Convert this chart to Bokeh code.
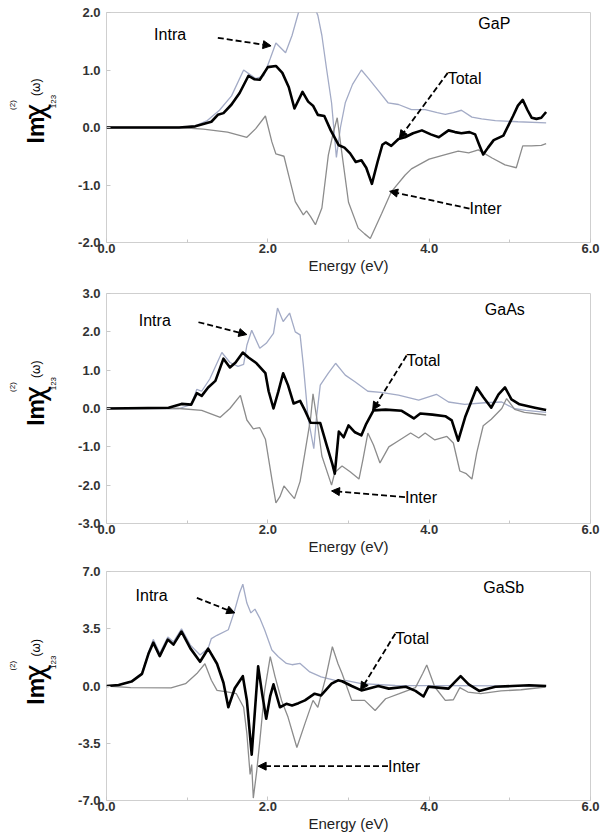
import math
from bokeh.plotting import figure
from bokeh.layouts import column, row
from bokeh.models import Label, Arrow, NormalHead, FixedTicker, NumeralTickFormatter, Range1d
from bokeh.embed import file_html
from bokeh.resources import INLINE

# ---------------- data ----------------
x_ticks = [0, 2, 4, 6]
x_minor = [1, 3, 5]

# GaP
gap_total_x = [0, 0.9, 1.1, 1.2, 1.3, 1.38, 1.45, 1.55, 1.65, 1.76,
               1.83, 1.9, 2.0, 2.1, 2.18, 2.26, 2.33, 2.43, 2.5, 2.56,
               2.62, 2.7, 2.78, 2.88, 2.95, 3.02, 3.09, 3.16, 3.22, 3.29,
               3.36, 3.42, 3.46, 3.53, 3.62, 3.7, 3.8, 3.91, 4.02, 4.12,
               4.24, 4.32, 4.4, 4.5, 4.57, 4.62, 4.67, 4.73, 4.8, 4.92,
               5.04, 5.1, 5.16, 5.22, 5.27, 5.33, 5.39, 5.45]
gap_total_y = [0, 0, 0.02, 0.06, 0.1, 0.22, 0.25, 0.4, 0.6, 0.9,
               0.84, 0.83, 1.05, 1.07, 0.95, 0.7, 0.33, 0.62, 0.45, 0.38,
               0.22, 0.2, -0.05, -0.31, -0.35, -0.45, -0.6, -0.57, -0.7, -0.98,
               -0.6, -0.3, -0.26, -0.32, -0.2, -0.17, -0.1, -0.05, -0.12, -0.17,
               -0.05, -0.08, -0.1, -0.08, -0.12, -0.3, -0.47, -0.35, -0.22, -0.14,
               0.2, 0.38, 0.48, 0.3, 0.17, 0.15, 0.17, 0.27]
gap_intra_x = [0, 0.9, 1.1, 1.25, 1.4, 1.55, 1.7, 1.78, 1.85, 1.95,
               2.03, 2.1, 2.22, 2.3, 2.38, 2.45, 2.5, 2.56, 2.62, 2.67,
               2.73, 2.79, 2.85, 2.9, 2.96, 3.05, 3.16, 3.25, 3.37, 3.49,
               3.62, 3.78, 3.95, 4.1, 4.2, 4.3, 4.4, 4.53, 4.65, 4.82,
               5.1, 5.45]
gap_intra_y = [0, 0, 0.03, 0.12, 0.3, 0.55, 1.0, 0.92, 0.85, 0.9,
               1.2, 1.47, 1.3, 1.6, 2.0, 2.15, 2.05, 2.15, 1.95, 1.6,
               1.0, 0.43, -0.52, 0.0, 0.43, 0.75, 1.0, 0.85, 0.64, 0.43,
               0.4, 0.31, 0.31, 0.26, 0.23, 0.26, 0.3, 0.18, 0.15, 0.12,
               0.1, 0.08]
gap_inter_x = [0, 0.9, 1.2, 1.5, 1.74, 1.85, 1.97, 2.05, 2.1, 2.2,
               2.26, 2.34, 2.44, 2.48, 2.53, 2.59, 2.67, 2.75, 2.81, 2.86,
               2.9, 3.0, 3.12, 3.2, 3.27, 3.41, 3.53, 3.7, 3.78, 4.0,
               4.2, 4.36, 4.49, 4.61, 4.78, 4.94, 5.08, 5.16, 5.27, 5.39,
               5.45]
gap_inter_y = [0, 0, -0.03, -0.08, -0.17, -0.02, 0.2, -0.25, -0.46, -0.5,
               -0.84, -1.29, -1.52, -1.45, -1.55, -1.69, -1.4, -0.48, -0.1, 0.17,
               -0.26, -1.3, -1.75, -1.85, -1.93, -1.5, -1.12, -0.83, -0.72, -0.55,
               -0.47, -0.41, -0.44, -0.39, -0.53, -0.65, -0.7, -0.32, -0.32, -0.31,
               -0.28]
gap_yticks = [-2, -1, 0, 1, 2]

# GaAs
gaas_total_x = [0, 0.77, 0.93, 1.05, 1.12, 1.18, 1.26, 1.35, 1.45, 1.53,
                1.6, 1.69, 1.76, 1.86, 1.97, 2.01, 2.07, 2.13, 2.19, 2.25,
                2.32, 2.4, 2.46, 2.53, 2.65, 2.73, 2.8, 2.83, 2.88, 2.94,
                3.0, 3.08, 3.16, 3.22, 3.31, 3.46, 3.66, 3.81, 3.89, 4.04,
                4.2, 4.28, 4.36, 4.45, 4.59, 4.67, 4.77, 4.86, 4.94, 5.02,
                5.12, 5.31, 5.45]
gaas_total_y = [0, 0.02, 0.12, 0.1, 0.4, 0.33, 0.55, 0.72, 1.3, 1.07,
                1.2, 1.46, 1.33, 1.18, 0.92, 0.45, 0.0, 0.44, 0.92, 0.61,
                0.13, 0.2, -0.05, -0.37, -0.38, -0.96, -1.45, -1.7, -0.6, -0.75,
                -0.44, -0.62, -0.7, -0.4, -0.05, -0.03, -0.06, -0.26, -0.13, -0.16,
                -0.2, -0.31, -0.84, -0.2, 0.55, 0.3, 0.02, 0.37, 0.55, 0.24,
                0.11, 0.02, -0.04]
gaas_intra_x = [0, 0.9, 1.05, 1.12, 1.18, 1.28, 1.43, 1.53, 1.63, 1.7,
                1.74, 1.8, 1.9, 1.98, 2.07, 2.12, 2.19, 2.27, 2.34, 2.4,
                2.44, 2.5, 2.57, 2.6, 2.65, 2.75, 2.84, 2.96, 3.08, 3.24,
                3.4, 3.62, 3.87, 4.09, 4.24, 4.44, 4.69, 4.9, 5.05, 5.2,
                5.45]
gaas_intra_y = [0, 0.0, 0.1, 0.5, 0.45, 0.77, 1.46, 1.2, 1.1, 1.15,
                1.65, 2.04, 1.57, 1.7, 1.96, 2.62, 2.27, 2.49, 2.0, 1.92,
                1.13, -0.26, -1.05, -0.3, 0.61, 0.92, 1.18, 0.87, 0.7, 0.45,
                0.42, 0.35, 0.22, 0.37, 0.17, 0.11, 0.15, 0.17, 0.0, -0.05,
                -0.1]
gaas_inter_x = [0, 0.9, 1.18, 1.41, 1.53, 1.66, 1.74, 1.82, 1.9, 1.97,
                2.05, 2.1, 2.15, 2.2, 2.27, 2.33, 2.4, 2.46, 2.53, 2.56,
                2.61, 2.67, 2.79, 2.83, 2.92, 3.02, 3.13, 3.18, 3.24, 3.31,
                3.39, 3.5, 3.62, 3.77, 3.87, 3.95, 4.07, 4.22, 4.3, 4.38,
                4.46, 4.53, 4.59, 4.67, 4.77, 4.9, 4.96, 5.06, 5.18, 5.45]
gaas_inter_y = [0, 0, -0.05, -0.23, 0.0, 0.34, -0.3, -0.53, -0.5, -0.8,
                -1.84, -2.46, -2.3, -2.02, -2.2, -2.35, -1.9, -1.15, -0.26, 0.38,
                -0.3, -1.24, -2.0, -1.67, -1.5, -1.65, -1.84, -1.32, -0.64, -0.95,
                -1.42, -1.0, -0.84, -0.64, -0.77, -0.64, -0.82, -0.73, -0.9, -1.63,
                -1.7, -1.84, -1.15, -0.45, -0.28, 0.0, 0.26, -0.02, -0.1, -0.17]
gaas_yticks = [-3, -2, -1, 0, 1, 2, 3]

# GaSb
gasb_total_x = [0, 0.15, 0.31, 0.44, 0.52, 0.58, 0.66, 0.76, 0.83, 0.93,
                1.04, 1.16, 1.26, 1.37, 1.45, 1.51, 1.59, 1.69, 1.74, 1.8,
                1.84, 1.88, 1.93, 1.98, 2.03, 2.07, 2.15, 2.23, 2.3, 2.38,
                2.46, 2.58, 2.66, 2.79, 2.87, 2.92, 3.04, 3.16, 3.37, 3.5,
                3.71, 3.83, 3.93, 3.99, 4.11, 4.24, 4.32, 4.39, 4.49, 4.62,
                4.82, 5.03, 5.24, 5.45]
gasb_total_y = [0, 0.06, 0.27, 0.74, 1.97, 2.65, 1.83, 2.84, 2.53, 3.33,
                2.3, 1.48, 2.28, 1.36, 0.2, -1.3, -0.14, 0.6, -0.87, -4.2,
                -1.5, 1.2, -0.5, -2.0, -0.6, 0.1, -1.3, -1.09, -1.19, -1.05,
                -0.88, -0.47, -0.58, 0.14, 0.35, 0.29, 0.0, -0.27, 0.0, -0.16,
                -0.05, -0.3, -0.64, -0.05, -0.1, -0.16, 0.25, 0.6, 0.1, -0.3,
                -0.05, 0.0, 0.05, 0.0]
gasb_intra_x = [0, 0.15, 0.31, 0.44, 0.52, 0.58, 0.66, 0.76, 0.83, 0.93,
                1.04, 1.16, 1.26, 1.3, 1.37, 1.51, 1.58, 1.65, 1.69, 1.74,
                1.79, 1.84, 1.9, 1.96, 2.05, 2.13, 2.23, 2.3, 2.4, 2.52,
                2.66, 2.87, 2.96, 3.16, 3.58, 4.2, 5.45]
gasb_intra_y = [0, 0.05, 0.28, 0.8, 2.05, 2.85, 2.0, 3.0, 2.7, 3.5,
                2.5, 1.9, 2.3, 2.9, 3.1, 3.44, 4.47, 5.7, 6.22, 5.07,
                4.47, 4.7, 4.15, 3.44, 2.2, 1.79, 1.38, 1.3, 1.38, 0.86,
                0.56, 0.3, 0.35, 0.14, 0.03, 0.02, 0.0]
gasb_inter_x = [0, 0.3, 0.8, 0.98, 1.12, 1.22, 1.3, 1.37, 1.51, 1.61,
                1.7, 1.74, 1.78, 1.8, 1.82, 1.86, 1.9, 1.96, 2.03, 2.09,
                2.17, 2.25, 2.36, 2.46, 2.56, 2.62, 2.72, 2.8, 2.87, 2.92,
                3.04, 3.2, 3.33, 3.46, 3.63, 3.83, 3.92, 3.97, 4.07, 4.2,
                4.3, 4.38, 4.48, 4.64, 4.89, 5.14, 5.44]
gasb_inter_y = [0, -0.1, -0.12, 0.14, 0.76, 1.36, 0.35, -0.27, -0.37, -0.47,
                -1.3, -2.9, -5.4, -4.8, -6.85, -5.3, -3.4, -0.3, 1.79, 0.56,
                -0.88, -1.9, -3.76, -2.3, -0.88, -1.3, 0.56, 2.4, 1.36, 0.76,
                -0.88, -0.88, -1.5, -0.78, -0.47, -0.1, 0.76, 1.28, -0.06, -0.88,
                -0.84, -0.1, -0.37, -0.47, -0.3, -0.23, -0.06]
gasb_yticks = [-7, -3.5, 0, 3.5, 7]

# ---------------- styling ----------------
FONT = "Liberation Sans"
INTRA_C = "#a3abc6"
INTER_C = "#8c8c8c"
FRAME_W = 484
FRAME_H = 230
TOP = 12
LAB_W = 68      # width of the strip holding the rotated y label
MAIN_LEFT = 38  # border left of the main figure (tick labels)
MAIN_RIGHT = 14
MAIN_W = MAIN_LEFT + FRAME_W + MAIN_RIGHT


def ylabel_fig(height):
    q = figure(width=LAB_W, height=height, output_backend="svg", toolbar_location=None,
               x_range=Range1d(0, LAB_W), y_range=Range1d(0, height),
               x_axis_type=None, y_axis_type=None,
               min_border=0, min_border_left=0, min_border_right=0,
               min_border_top=0, min_border_bottom=0)
    q.outline_line_color = None
    q.xgrid.visible = False
    q.ygrid.visible = False
    yc = height - TOP - FRAME_H / 2.0       # frame centre, measured from the bottom
    x0 = LAB_W + MAIN_LEFT                  # frame left edge in this strip's coordinates
    parts = [
        ("Im", -71, -33, "23px", "bold", FONT),
        ("\u03c7", -71, -4, "28px", "normal", "DejaVu Sans"),
        ("(2)", -94, 8, "8px", "normal", FONT),
        ("123", -53, 10, "8px", "normal", FONT),
        ("(\u03c9)", -71, 25, "12px", "normal", FONT),
    ]
    for txt, dx, dy, fs, st, fnt in parts:
        q.add_layout(Label(x=x0 + dx, y=yc + dy, text=txt, angle=math.pi / 2,
                           text_font=fnt, text_font_size=fs, text_font_style=st,
                           text_align="left", text_baseline="alphabetic",
                           text_color="black"))
    return q


def annotate(p, txt, x, y, x0, y0, x1, y1):
    p.add_layout(Label(x=x, y=y, text=txt, text_font=FONT, text_font_size="16px",
                       text_baseline="middle", text_align="left", text_color="black"))
    p.add_layout(Arrow(end=NormalHead(size=8, fill_color="black", line_color="black",
                                      line_width=1),
                       x_start=x0, y_start=y0, x_end=x1, y_end=y1,
                       line_color="black", line_width=1.8, line_dash="6 3"))


def make_panel(height, border_bottom, ymin, ymax, yticks,
               tx, ty, ix, iy, ex, ey, name, name_pos, ann):
    p = figure(width=MAIN_W, height=height, output_backend="svg", toolbar_location=None,
               x_range=Range1d(0, 6), y_range=Range1d(ymin, ymax),
               min_border_left=MAIN_LEFT, min_border_right=MAIN_RIGHT,
               min_border_top=TOP, min_border_bottom=border_bottom)
    p.xgrid.visible = False
    p.ygrid.visible = False
    p.outline_line_color = "#cfcfcf"
    p.outline_line_width = 1
    p.background_fill_color = "white"
    p.border_fill_color = "white"

    p.line(ix, iy, line_color=INTRA_C, line_width=1.3)
    p.line(ex, ey, line_color=INTER_C, line_width=1.3)
    p.line(tx, ty, line_color="black", line_width=2.6, line_join="round")

    p.xaxis.ticker = FixedTicker(ticks=x_ticks, minor_ticks=x_minor)
    p.yaxis.ticker = FixedTicker(ticks=yticks)
    for ax in (p.xaxis[0], p.yaxis[0]):
        ax.formatter = NumeralTickFormatter(format="0.0")
        ax.axis_line_color = None
        ax.major_tick_in = 4
        ax.major_tick_out = 0
        ax.minor_tick_in = 3
        ax.minor_tick_out = 0
        ax.major_tick_line_color = "#c8c8c8"
        ax.minor_tick_line_color = "#c8c8c8"
        ax.major_label_text_font = FONT
        ax.major_label_text_font_size = "13px"
        ax.major_label_text_font_style = "bold"
        ax.major_label_text_color = "#333333"
    p.yaxis.major_label_standoff = 6
    p.xaxis.major_label_standoff = 1
    p.xaxis.axis_label = "Energy (eV)"
    p.xaxis.axis_label_text_font = FONT
    p.xaxis.axis_label_text_font_size = "15px"
    p.xaxis.axis_label_text_font_style = "normal"
    p.xaxis.axis_label_text_color = "#222222"
    p.xaxis.axis_label_standoff = 1

    p.add_layout(Label(x=name_pos[0], y=name_pos[1], text=name, text_font=FONT,
                       text_font_size="16px", text_baseline="middle", text_align="left",
                       text_color="black"))
    for a in ann:
        annotate(p, *a)
    return row(ylabel_fig(height), p, spacing=0)


H1, H2, H3 = 281, 278, 275

p1 = make_panel(H1, H1 - TOP - FRAME_H, -2, 2, gap_yticks,
                gap_total_x, gap_total_y, gap_intra_x, gap_intra_y, gap_inter_x, gap_inter_y,
                "GaP", (4.61, 1.81),
                [("Intra", 0.59, 1.61, 1.38, 1.56, 2.04, 1.42),
                 ("Total", 4.23, 0.86, 4.23, 0.95, 3.63, -0.19),
                 ("Inter", 4.5, -1.41, 4.5, -1.41, 3.51, -1.11)])

p2 = make_panel(H2, H2 - TOP - FRAME_H, -3, 3, gaas_yticks,
                gaas_total_x, gaas_total_y, gaas_intra_x, gaas_intra_y, gaas_inter_x, gaas_inter_y,
                "GaAs", (4.69, 2.57),
                [("Intra", 0.40, 2.29, 1.14, 2.25, 1.74, 1.93),
                 ("Total", 3.72, 1.26, 3.72, 1.38, 3.30, -0.04),
                 ("Inter", 3.70, -2.31, 3.70, -2.31, 2.79, -2.15)])

p3 = make_panel(H3, H3 - TOP - FRAME_H, -7, 7, gasb_yticks,
                gasb_total_x, gasb_total_y, gasb_intra_x, gasb_intra_y, gasb_inter_x, gasb_inter_y,
                "GaSb", (4.67, 6.05),
                [("Intra", 0.36, 5.55, 1.12, 5.39, 1.59, 4.47),
                 ("Total", 3.58, 2.89, 3.58, 3.2, 3.15, -0.25),
                 ("Inter", 3.49, -4.9, 3.49, -4.9, 1.88, -4.9)])

layout = column(p1, p2, p3, spacing=0)
open("out.html", "w").write(file_html(layout, INLINE))
